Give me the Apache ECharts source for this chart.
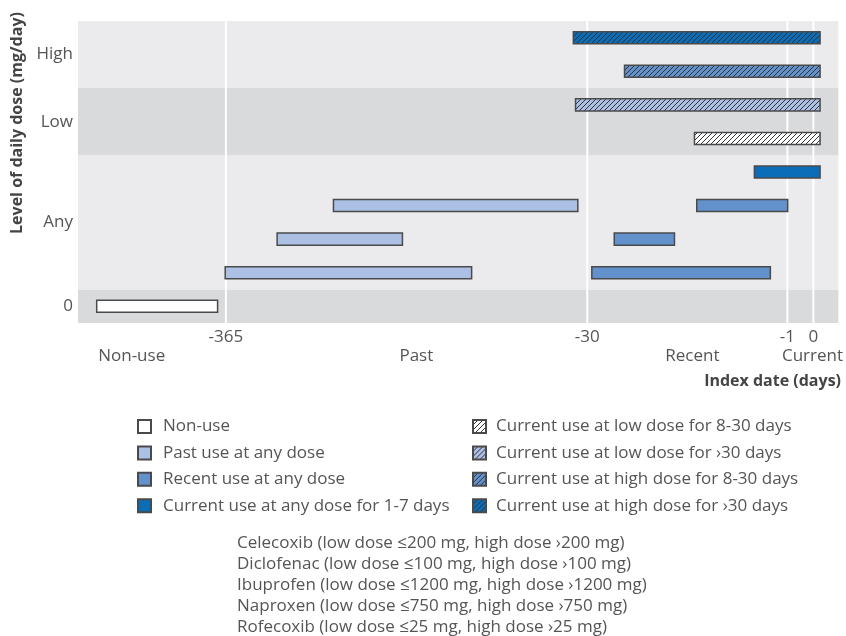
<!DOCTYPE html>
<html>
<head>
<meta charset="utf-8">
<script src="https://cdn.jsdelivr.net/npm/echarts@6/dist/echarts.min.js"></script>
<style>
  html, body { margin: 0; padding: 0; background: #fff; }
  #main { width: 846px; height: 636px; }
</style>
</head>
<body>
<div id="main"></div>
<script>
// timeline runs 0..100 (schematic, not linear in days)
var xTickPos = [19.45, 66.98, 93.30, 96.72];
var xTickLabels = ['-365', '-30', '-1', '0'];
var periodPos = [7.06, 44.5, 80.8, 96.6];
var periodLabels = ['Non-use', 'Past', 'Recent', 'Current'];

// dose rows, 0 at the bottom
var yLabelPos = [0.5, 3, 6, 8];
var yLabels = ['0', 'Any', 'Low', 'High'];
var bandRanges = [[0, 1], [1, 5], [5, 7], [7, 9]];

// each bar: [start, end, row centre]
var nonUse = [[2.46, 18.36, 0.5]];
var pastUse = [[19.36, 51.77, 1.5], [26.19, 42.67, 2.5], [33.60, 65.74, 3.5]];
var recentUse = [[67.58, 91.06, 1.5], [70.53, 78.45, 2.5], [81.38, 93.34, 3.5]];
var current17 = [[88.96, 97.60, 4.5]];
var lowShort = [[81.08, 97.60, 5.5]];
var lowLong = [[65.44, 97.60, 6.5]];
var highShort = [[71.88, 97.60, 7.5]];
var highLong = [[65.15, 97.60, 8.5]];

var seriesNames = [
  'Non-use', 'Past use at any dose', 'Recent use at any dose', 'Current use at any dose for 1-7 days',
  'Current use at low dose for 8-30 days', 'Current use at low dose for \u203a30 days',
  'Current use at high dose for 8-30 days', 'Current use at high dose for \u203a30 days'
];

var drugNotes = [
  'Celecoxib (low dose \u2264200 mg, high dose \u203a200 mg)',
  'Diclofenac (low dose \u2264100 mg, high dose \u203a100 mg)',
  'Ibuprofen (low dose \u22641200 mg, high dose \u203a1200 mg)',
  'Naproxen (low dose \u2264750 mg, high dose \u203a750 mg)',
  'Rofecoxib (low dose \u226425 mg, high dose \u203a25 mg)'
];

var FONT = 'Open Sans';
var TXT = '#555';
var BORDER = '#4a4a4a';

// diagonal hatching tile
function hatch(bg) {
  var n = 5;
  var c = document.createElement('canvas');
  c.width = n; c.height = n;
  var ctx = c.getContext('2d');
  ctx.fillStyle = bg;
  ctx.fillRect(0, 0, n, n);
  ctx.strokeStyle = '#333';
  ctx.lineWidth = 1;
  ctx.beginPath();
  ctx.moveTo(0, n); ctx.lineTo(n, 0);
  ctx.moveTo(-1, 1); ctx.lineTo(1, -1);
  ctx.moveTo(n - 1, n + 1); ctx.lineTo(n + 1, n - 1);
  ctx.stroke();
  return { image: c, repeat: 'repeat' };
}

function renderBar(params, api) {
  var s = api.coord([api.value(0), api.value(2)]);
  var e = api.coord([api.value(1), api.value(2)]);
  var h = api.size([0, 1])[1] * 0.36;
  return {
    type: 'rect',
    shape: { x: s[0], y: s[1] - h / 2, width: e[0] - s[0], height: h },
    style: api.style()
  };
}

function barSeries(name, data, fill) {
  return {
    name: name,
    type: 'custom',
    renderItem: renderBar,
    z: 5,
    silent: true,
    encode: { x: [0, 1], y: 2 },
    itemStyle: { color: fill, borderColor: BORDER, borderWidth: 1.5 },
    data: data
  };
}

var myChart = echarts.init(document.getElementById('main'));

var option = {
  animation: false,
  textStyle: { fontFamily: FONT },
  title: [{
    text: drugNotes.join('\n'),
    left: 232,
    top: 528,
    textStyle: { fontSize: 17, fontWeight: 'normal', color: TXT, lineHeight: 21, fontFamily: FONT }
  }, {
    text: 'Index date (days)',
    right: 0,
    top: 368,
    textStyle: { fontSize: 16, fontWeight: 'bold', color: '#444', fontFamily: FONT }
  }],
  graphic: [{
    type: 'text',
    x: 17,
    y: 123,
    rotation: Math.PI / 2,
    style: {
      text: 'Level of daily dose (mg/day)',
      fontFamily: FONT, fontSize: 16, fontWeight: 'bold', fill: '#444',
      textAlign: 'center', textVerticalAlign: 'middle'
    }
  }],
  legend: [{
    data: seriesNames.slice(0, 4),
    orient: 'vertical',
    left: 132, top: 413,
    icon: 'rect',
    itemWidth: 13, itemHeight: 13, itemGap: 9.4,
    selectedMode: false,
    textStyle: { fontSize: 17, color: TXT, fontFamily: FONT, padding: [0, 0, 0, 7] }
  }, {
    data: seriesNames.slice(4),
    orient: 'vertical',
    left: 467, top: 413,
    icon: 'rect',
    itemWidth: 13, itemHeight: 13, itemGap: 9.4,
    selectedMode: false,
    textStyle: { fontSize: 17, color: TXT, fontFamily: FONT, padding: [0, 0, 0, 5] }
  }],
  grid: { left: 78, right: 7, top: 21, bottom: 313, containLabel: false },
  xAxis: [{
    type: 'value', min: 0, max: 100,
    axisLine: { show: false }, axisTick: { show: false }, splitLine: { show: false },
    axisLabel: {
      customValues: xTickPos,
      formatter: function (v) {
        var i = xTickPos.indexOf(v);
        return i >= 0 ? xTickLabels[i] : '';
      },
      color: TXT, fontSize: 17, margin: 6, fontFamily: FONT
    }
  }, {
    type: 'value', min: 0, max: 100, position: 'bottom', offset: 20,
    axisLine: { show: false }, axisTick: { show: false }, splitLine: { show: false },
    axisLabel: {
      customValues: periodPos,
      formatter: function (v) {
        var i = periodPos.indexOf(v);
        return i >= 0 ? periodLabels[i] : '';
      },
      color: TXT, fontSize: 17, margin: 5, fontFamily: FONT
    }
  }],
  yAxis: {
    type: 'value', min: 0, max: 9, interval: 0.5,
    axisLine: { show: false }, axisTick: { show: false }, splitLine: { show: false },
    axisLabel: {
      formatter: function (v) {
        var i = yLabelPos.indexOf(v);
        return i >= 0 ? yLabels[i] : '';
      },
      color: TXT, fontSize: 17, margin: 5, fontFamily: FONT
    }
  },
  series: [{
    name: 'bands',
    type: 'custom',
    silent: true,
    z: 1,
    encode: { y: [0, 1] },
    data: bandRanges,
    renderItem: function (params, api) {
      var cs = params.coordSys;
      var top = api.coord([0, api.value(1)])[1];
      var bot = api.coord([0, api.value(0)])[1];
      return {
        type: 'rect',
        shape: { x: cs.x, y: top, width: cs.width, height: bot - top },
        style: { fill: params.dataIndex % 2 === 0 ? '#d9dadc' : '#ebebed' }
      };
    }
  }, {
    name: 'gridlines',
    type: 'custom',
    silent: true,
    z: 2,
    encode: { x: 0 },
    data: xTickPos.map(function (v) { return [v]; }),
    renderItem: function (params, api) {
      var cs = params.coordSys;
      var x = api.coord([api.value(0), 0])[0];
      return {
        type: 'line',
        shape: { x1: x, y1: cs.y, x2: x, y2: cs.y + cs.height },
        style: { stroke: '#fff', lineWidth: 2 }
      };
    }
  },
    barSeries(seriesNames[0], nonUse, '#ffffff'),
    barSeries(seriesNames[1], pastUse, '#abc0e4'),
    barSeries(seriesNames[2], recentUse, '#6391cc'),
    barSeries(seriesNames[3], current17, '#0b6cb8'),
    barSeries(seriesNames[4], lowShort, hatch('#ffffff')),
    barSeries(seriesNames[5], lowLong, hatch('#abc0e4')),
    barSeries(seriesNames[6], highShort, hatch('#6391cc')),
    barSeries(seriesNames[7], highLong, hatch('#0b6cb8'))
  ]
};
myChart.setOption(option, true);
</script>
</body>
</html>
